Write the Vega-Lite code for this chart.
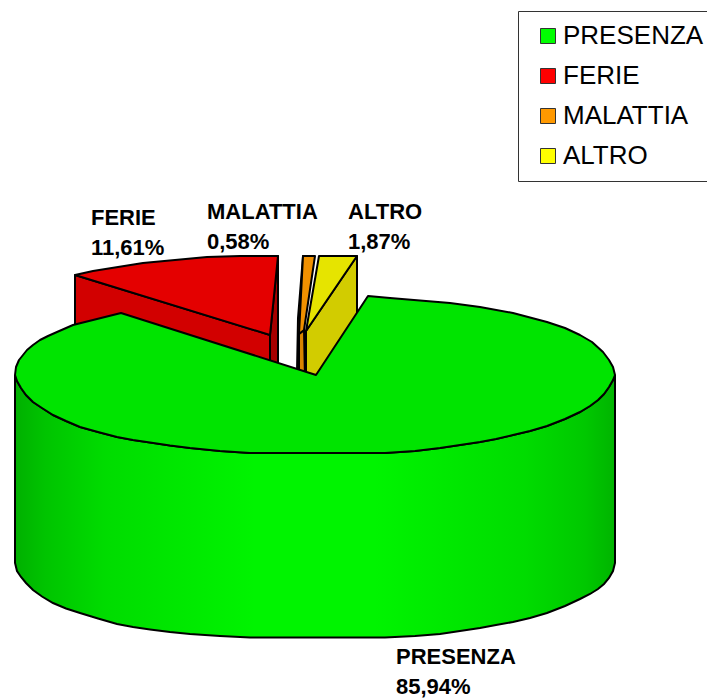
{"$schema":"https://vega.github.io/schema/vega-lite/v6.json","width":707,"height":698,"autosize":{"type":"none"},"padding":0,"background":"#ffffff","view":{"stroke":null},
"datasets":{
"slices":[{"name":"PRESENZA","label":"PRESENZA\n85,94%","pct":85.94,"lx":396,"ly":664},{"name":"FERIE","label":"FERIE\n11,61%","pct":11.61,"lx":91,"ly":225},{"name":"MALATTIA","label":"MALATTIA\n0,58%","pct":0.58,"lx":207,"ly":219},{"name":"ALTRO","label":"ALTRO\n1,87%","pct":1.87,"lx":348,"ly":219}],
"back":[
{"f":"FERIE wall","i":0,"x":75,"y":275},{"f":"FERIE wall","i":1,"x":270,"y":335},{"f":"FERIE wall","i":2,"x":270,"y":400},{"f":"FERIE wall","i":3,"x":75,"y":400},
{"f":"FERIE inner","i":0,"x":278,"y":256},{"f":"FERIE inner","i":1,"x":270,"y":335},{"f":"FERIE inner","i":2,"x":270,"y":380},{"f":"FERIE inner","i":3,"x":278,"y":380},
{"f":"FERIE top","i":0,"x":75,"y":275},{"f":"FERIE top","i":1,"x":93,"y":271},{"f":"FERIE top","i":2,"x":143,"y":263},{"f":"FERIE top","i":3,"x":207,"y":257},{"f":"FERIE top","i":4,"x":240,"y":256},{"f":"FERIE top","i":5,"x":278,"y":256},{"f":"FERIE top","i":6,"x":270,"y":335},
{"f":"MALATTIA inner","i":0,"x":303,"y":256},{"f":"MALATTIA inner","i":1,"x":298,"y":318},{"f":"MALATTIA inner","i":2,"x":297,"y":372},{"f":"MALATTIA inner","i":3,"x":300,"y":372},
{"f":"MALATTIA wall","i":0,"x":299,"y":334},{"f":"MALATTIA wall","i":1,"x":304,"y":330},{"f":"MALATTIA wall","i":2,"x":305,"y":380},{"f":"MALATTIA wall","i":3,"x":299,"y":380},
{"f":"MALATTIA top","i":0,"x":303,"y":256},{"f":"MALATTIA top","i":1,"x":315,"y":256},{"f":"MALATTIA top","i":2,"x":304,"y":330},{"f":"MALATTIA top","i":3,"x":299,"y":334},
{"f":"ALTRO wall","i":0,"x":306,"y":331},{"f":"ALTRO wall","i":1,"x":357,"y":256},{"f":"ALTRO wall","i":2,"x":357,"y":345},{"f":"ALTRO wall","i":3,"x":316,"y":385},{"f":"ALTRO wall","i":4,"x":306,"y":385},
{"f":"ALTRO top","i":0,"x":319,"y":256},{"f":"ALTRO top","i":1,"x":357,"y":256},{"f":"ALTRO top","i":2,"x":306,"y":331}
],
"wall":[{"x":15,"y":375,"y2":563},{"x":17,"y":381,"y2":571},{"x":21,"y":388,"y2":577},{"x":26,"y":395,"y2":583},{"x":33,"y":402,"y2":590},{"x":42,"y":408,"y2":596.5},{"x":53,"y":415,"y2":603},{"x":66,"y":421,"y2":608.5},{"x":80,"y":427,"y2":613},{"x":98,"y":432,"y2":618.5},{"x":117,"y":437,"y2":624},{"x":133,"y":440,"y2":627},{"x":150,"y":442.5,"y2":629.5},{"x":170,"y":445.5,"y2":632},{"x":190,"y":448,"y2":634},{"x":220,"y":451,"y2":636},{"x":250,"y":453,"y2":637.5},{"x":385,"y":453,"y2":637.5},{"x":415,"y":451,"y2":636},{"x":440,"y":448,"y2":634},{"x":460,"y":445,"y2":631},{"x":480,"y":442,"y2":628},{"x":496,"y":439,"y2":625},{"x":513,"y":435,"y2":622},{"x":530,"y":431,"y2":618},{"x":547,"y":426,"y2":613},{"x":565,"y":419,"y2":606},{"x":580,"y":412,"y2":599},{"x":590,"y":406,"y2":594},{"x":598,"y":400,"y2":589},{"x":604,"y":394,"y2":584},{"x":609,"y":387,"y2":578},{"x":613,"y":380,"y2":571},{"x":615,"y":375,"y2":563}],
"top":[{"i":0,"x":316,"y":375},{"i":1,"x":368,"y":296},{"i":2,"x":390,"y":298},{"i":3,"x":420,"y":300.5},{"i":4,"x":450,"y":303},{"i":5,"x":480,"y":307},{"i":6,"x":513,"y":313},{"i":7,"x":547,"y":322},{"i":8,"x":565,"y":328},{"i":9,"x":580,"y":335},{"i":10,"x":592,"y":342},{"i":11,"x":603,"y":352},{"i":12,"x":609,"y":360},{"i":13,"x":613,"y":367},{"i":14,"x":615,"y":375},{"i":15,"x":613,"y":380},{"i":16,"x":609,"y":387},{"i":17,"x":604,"y":394},{"i":18,"x":598,"y":400},{"i":19,"x":590,"y":406},{"i":20,"x":580,"y":412},{"i":21,"x":565,"y":419},{"i":22,"x":547,"y":426},{"i":23,"x":530,"y":431},{"i":24,"x":513,"y":435},{"i":25,"x":496,"y":439},{"i":26,"x":480,"y":442},{"i":27,"x":460,"y":445},{"i":28,"x":440,"y":448},{"i":29,"x":415,"y":451},{"i":30,"x":385,"y":453},{"i":31,"x":250,"y":453},{"i":32,"x":220,"y":451},{"i":33,"x":190,"y":448},{"i":34,"x":170,"y":445.5},{"i":35,"x":150,"y":442.5},{"i":36,"x":133,"y":440},{"i":37,"x":117,"y":437},{"i":38,"x":98,"y":432},{"i":39,"x":80,"y":427},{"i":40,"x":66,"y":421},{"i":41,"x":53,"y":415},{"i":42,"x":42,"y":408},{"i":43,"x":33,"y":402},{"i":44,"x":26,"y":395},{"i":45,"x":21,"y":388},{"i":46,"x":17,"y":381},{"i":47,"x":15,"y":375},{"i":48,"x":16,"y":367},{"i":49,"x":19,"y":360},{"i":50,"x":23,"y":355},{"i":51,"x":27,"y":350},{"i":52,"x":33,"y":345},{"i":53,"x":40,"y":340},{"i":54,"x":48,"y":336},{"i":55,"x":57,"y":332},{"i":56,"x":73,"y":325},{"i":57,"x":121,"y":313}]
},
"layer":[
{"data":{"name":"back"},"mark":{"type":"line","interpolate":"linear-closed","stroke":"#000000","strokeWidth":2,"strokeJoin":"round","clip":true},
"encoding":{"x":{"field":"x","type":"quantitative","scale":{"domain":[0,707]},"axis":null},"y":{"field":"y","type":"quantitative","scale":{"domain":[698,0]},"axis":null},"order":{"field":"i","type":"ordinal"},"detail":{"field":"f"},
"fill":{"field":"f","type":"nominal","legend":null,"scale":{"domain":["FERIE wall","FERIE inner","FERIE top","MALATTIA inner","MALATTIA wall","MALATTIA top","ALTRO wall","ALTRO top"],"range":["#d20000","#a80000","#e40000","#b87000","#d98400","#f09000","#d2cc00","#e6e400"]}}}},
{"data":{"name":"wall"},"mark":{"type":"area","stroke":"#000000","strokeWidth":2,"fill":{"gradient":"linear","x1":0,"x2":1,"y1":0,"y2":0,"stops":[{"offset":0,"color":"#00b000"},{"offset":0.05,"color":"#00c400"},{"offset":0.15,"color":"#00dc00"},{"offset":0.4,"color":"#00f400"},{"offset":0.6,"color":"#00f400"},{"offset":0.85,"color":"#00dc00"},{"offset":0.95,"color":"#00c800"},{"offset":1,"color":"#00b400"}]}},
"encoding":{"x":{"field":"x","type":"quantitative","scale":{"domain":[0,707]},"axis":null},"y":{"field":"y","type":"quantitative","scale":{"domain":[698,0]},"axis":null},"y2":{"field":"y2"}}},
{"data":{"name":"top"},"mark":{"type":"line","interpolate":"linear-closed","stroke":"#000000","strokeWidth":2,"strokeJoin":"round","fill":"#00e400"},
"encoding":{"x":{"field":"x","type":"quantitative","scale":{"domain":[0,707]},"axis":null},"y":{"field":"y","type":"quantitative","scale":{"domain":[698,0]},"axis":null},"order":{"field":"i","type":"ordinal"}}},
{"data":{"name":"slices"},"mark":{"type":"square","opacity":0,"size":1},
"encoding":{"x":{"field":"lx","type":"quantitative","scale":{"domain":[0,707]},"axis":null},"y":{"field":"ly","type":"quantitative","scale":{"domain":[698,0]},"axis":null},
"color":{"field":"name","type":"nominal","sort":null,"scale":{"domain":["PRESENZA","FERIE","MALATTIA","ALTRO"],"range":["#00ff00","#ff0000","#ff9900","#ffff00"]},
"legend":{"orient":"none","legendX":518,"legendY":11,"title":null,"symbolType":"square","symbolSize":225,"symbolOpacity":1,"symbolStrokeColor":"#333333","symbolStrokeWidth":1,"symbolOffset":5,"labelFont":"Liberation Sans","labelFontSize":26,"labelColor":"#000000","labelOffset":2,"labelLimit":300,"rowPadding":14,"padding":12,"strokeColor":"#333333","fillColor":"#ffffff"}}}},
{"data":{"name":"slices"},"mark":{"type":"text","align":"left","baseline":"alphabetic","font":"Liberation Sans","fontWeight":"bold","fontSize":22,"lineBreak":"\n","lineHeight":30,"color":"#000000"},
"encoding":{"x":{"field":"lx","type":"quantitative","scale":{"domain":[0,707]},"axis":null},"y":{"field":"ly","type":"quantitative","scale":{"domain":[698,0]},"axis":null},"text":{"field":"label"}}}
]}
